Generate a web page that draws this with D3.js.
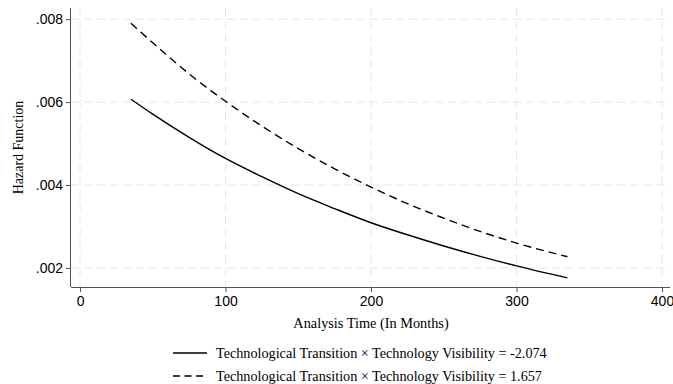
<!DOCTYPE html>
<html>
<head>
<meta charset="utf-8">
<script src="https://cdn.jsdelivr.net/npm/d3@7"></script>
<style>
  body { margin: 0; background: #fff; }
  svg { display: block; font-family: "Liberation Serif", "DejaVu Serif", serif; }
</style>
</head>
<body>
<svg id="chart"></svg>
<script>
// analysis time (months)
const months = [35, 50, 75, 100, 125, 150, 175, 200, 225, 250, 275, 300, 335];
// hazard, visibility = -2.074
const hazardLow = [0.00607, 0.00571, 0.00515, 0.00464, 0.00420, 0.00379, 0.00343, 0.00309, 0.00280, 0.00253, 0.00228, 0.00205, 0.00176];
// hazard, visibility = 1.657
const hazardHigh = [0.0079, 0.00743, 0.00668, 0.00602, 0.00542, 0.00488, 0.00439, 0.00395, 0.00355, 0.00320, 0.00288, 0.00260, 0.00227];
const xTicks = [0, 100, 200, 300, 400];
const yTicks = [0.002, 0.004, 0.006, 0.008];
const seriesLabels = [
  "Technological Transition \u00d7 Technology Visibility = -2.074",
  "Technological Transition \u00d7 Technology Visibility = 1.657"
];

const W = 673, H = 384;
const svg = d3.select("#chart").attr("width", W).attr("height", H);

const plotL = 71, plotR = 670, plotT = 8, plotB = 287;

const x = d3.scaleLinear().domain([-6.2, 405.5]).range([plotL, plotR]);
const y = d3.scaleLinear().domain([0.00154, 0.00827]).range([plotB, plotT]);

// grid
const grid = svg.append("g")
  .attr("stroke", "#e6e6e6")
  .attr("stroke-width", 1)
  .attr("stroke-dasharray", "8,5");
grid.selectAll(".gx").data(xTicks).enter().append("line")
  .attr("x1", d => x(d)).attr("x2", d => x(d))
  .attr("y1", plotT).attr("y2", plotB);
grid.selectAll(".gy").data(yTicks).enter().append("line")
  .attr("x1", plotL).attr("x2", plotR)
  .attr("y1", d => y(d)).attr("y2", d => y(d));

// axes
const fmt = d => d3.format(".3f")(d).replace(/^0/, "");
svg.append("g")
  .attr("transform", `translate(${plotL},0)`)
  .call(d3.axisLeft(y).tickValues(yTicks).tickFormat(fmt).tickSize(5).tickPadding(3))
  .call(g => g.select(".domain").attr("d", `M-0.5,${plotT}V${plotB}`))
  .call(g => g.selectAll("path, line").attr("stroke", "#555"))
  .call(g => g.selectAll("text").attr("fill", "#000").style("font-size", "14px").attr("font-family", null));

svg.append("g")
  .attr("transform", `translate(0,${plotB})`)
  .call(d3.axisBottom(x).tickValues(xTicks).tickSize(5).tickPadding(4))
  .call(g => g.select(".domain").attr("d", `M${plotL},0.5H${plotR}`))
  .call(g => g.selectAll("path, line").attr("stroke", "#555"))
  .call(g => g.selectAll("text").attr("fill", "#000").style("font-size", "14px").attr("font-family", null));

// titles
svg.append("text")
  .attr("x", 371).attr("y", 328)
  .attr("text-anchor", "middle").style("font-size", "14.3px")
  .text("Analysis Time (In Months)");
svg.append("text")
  .attr("transform", `translate(23,${(plotT + plotB) / 2}) rotate(-90)`)
  .attr("text-anchor", "middle").style("font-size", "14px")
  .text("Hazard Function");

// curves
const line = d3.line().x(d => x(d[0])).y(d => y(d[1])).curve(d3.curveMonotoneX);
const series = [
  { values: hazardLow, dash: null },
  { values: hazardHigh, dash: "8,5" }
];
svg.selectAll(".curve").data(series).enter().append("path")
  .attr("fill", "none")
  .attr("stroke", "#000")
  .attr("stroke-width", 1.4)
  .attr("stroke-dasharray", d => d.dash)
  .attr("d", d => line(months.map((m, i) => [m, d.values[i]])));

// legend
const leg = svg.selectAll(".leg").data(series).enter().append("g")
  .attr("transform", (d, i) => `translate(173,${353 + i * 23})`);
leg.append("line")
  .attr("x1", 0).attr("x2", 34)
  .attr("stroke", "#000").attr("stroke-width", 1.4)
  .attr("stroke-dasharray", d => d.dash ? "7,4.5" : null);
leg.append("text")
  .attr("x", 43).attr("y", 5)
  .style("font-size", "14.2px")
  .text((d, i) => seriesLabels[i]);
</script>
</body>
</html>
